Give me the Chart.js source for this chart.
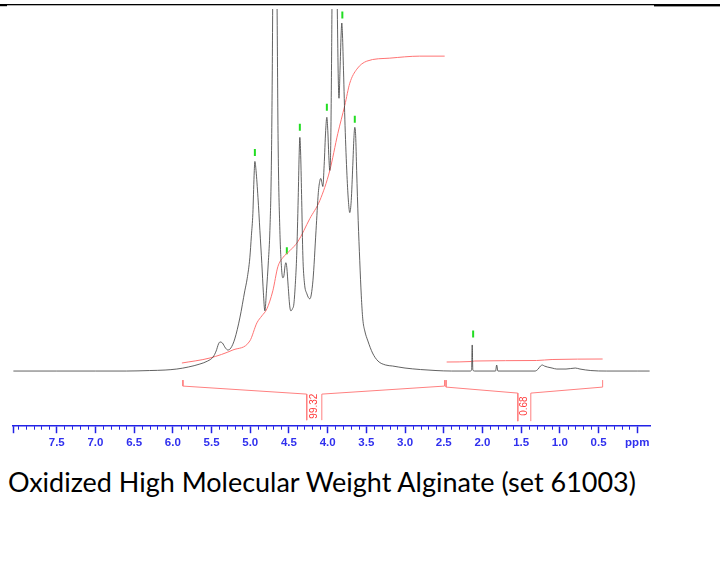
<!doctype html>
<html lang="en">
<head>
<meta charset="utf-8">
<title>Oxidized High Molecular Weight Alginate</title>
<style>
  body { margin:0; background:#fff; width:720px; height:574px; overflow:hidden; position:relative; }
  #wrap { position:absolute; left:0; top:0; width:720px; height:460px; }
  #caption { position:absolute; left:8px; top:466px; font-family:Lato, "Open Sans", sans-serif; font-size:23px; color:#000; white-space:nowrap; line-height:1.2; }
</style>
</head>
<body>
<div id="wrap"><canvas id="nmrChart"></canvas></div>
<div id="caption">Oxidized High Molecular Weight Alginate (set 61003)</div>
<script src="https://cdn.jsdelivr.net/npm/chart.js"></script>
<script>
// 1H spectrum, chemical shift (ppm) and intensity (arbitrary units, baseline 0)
var spectrumPpm = [8.06, 7.5, 7.0, 6.6, 6.3, 6.1, 5.95, 5.8, 5.65, 5.55, 5.48, 5.44, 5.41, 5.39, 5.36, 5.32, 5.29, 5.25, 5.2,
  5.134, 5.07, 5.04, 5.005, 4.985, 4.966, 4.95, 4.94, 4.925, 4.9, 4.875, 4.85, 4.83, 4.811, 4.79, 4.765, 4.746, 4.728,
  4.715, 4.705, 4.685, 4.668, 4.655, 4.64, 4.617, 4.595, 4.579, 4.565, 4.55, 4.54, 4.527, 4.51, 4.49, 4.475, 4.455,
  4.436, 4.415, 4.4, 4.38, 4.368, 4.359, 4.348, 4.335, 4.32, 4.3, 4.268, 4.23, 4.19, 4.15, 4.12, 4.1, 4.088, 4.075,
  4.062, 4.045, 4.025, 4.01, 3.998, 3.985, 3.972, 3.96, 3.948, 3.935, 3.91, 3.89, 3.875, 3.862, 3.853, 3.84, 3.826,
  3.817, 3.808, 3.795, 3.775, 3.75, 3.73, 3.714, 3.695, 3.675, 3.66, 3.649, 3.638, 3.625, 3.605, 3.585, 3.565, 3.546,
  3.52, 3.48, 3.42, 3.35, 3.25, 3.16, 3.0, 2.8, 2.6, 2.4, 2.16, 2.14, 2.132, 2.124, 2.1, 1.83, 1.816, 1.8, 1.32, 1.28,
  1.25, 1.225, 1.2, 1.16, 1.1, 1.04, 0.92, 0.8, 0.74, 0.6, 0.4, 0.0, -0.16];
var spectrumIntensity = [0, 0, 0, 0, 0.5, 1, 2, 4, 7, 10, 14, 20, 27, 29, 28, 23, 21, 23, 32,
  53, 80, 92, 113, 135, 157, 195, 209, 200, 173, 140, 107, 78, 60, 80, 110, 140, 200,
  300, 420, 470, 460, 380, 230, 140, 102, 93, 95, 105, 108, 103, 85, 65, 60, 62,
  67, 90, 115, 173, 215, 233, 215, 170, 115, 88, 77, 72, 90, 140, 178, 190, 192, 188,
  184, 205, 240, 253, 240, 215, 200, 225, 320, 450, 470, 450, 360, 290, 272, 300, 335,
  347, 335, 300, 245, 195, 168, 158, 170, 205, 233, 243, 235, 200, 150, 110, 75, 52,
  40, 30, 18, 10, 6, 5, 3, 1.5, 0.5, 0, 0, 1, 26, 1, 0, 0, 6, 0, 0, 2,
  5, 6, 5, 4, 3, 2, 2, 3, 2, 0.5, 0, 0, 0];

// integral curves
var integral1Ppm = [5.883, 5.521, 5.224, 5.005, 4.914, 4.85, 4.785, 4.708, 4.643, 4.579, 4.488, 4.385, 4.23, 4.101,
  3.972, 3.868, 3.778, 3.714, 3.623, 3.494, 3.197, 2.811, 2.488];
var integral1Value = [8, 13, 21, 30, 48, 55, 62, 80, 104, 113, 120, 129, 152, 170, 200, 237, 265, 287, 301, 309, 312, 314, 314];
var integral2Ppm = [2.462, 2.14, 2.1, 1.3, 1.1, 0.447];
var integral2Value = [9, 9.5, 10, 10.5, 11.5, 12];

// integration brackets (null = break for the label)
var bracket1Ppm = [5.87, 5.87, 4.27, 4.27, 4.17, 4.075, 4.075, 2.49, 2.49];
var bracket1Value = [-9, -15, -23, -49, null, -49, -23, -15, -9];
var bracket2Ppm = [2.47, 2.47, 1.543, 1.543, 1.46, 1.375, 1.375, 0.447, 0.447];
var bracket2Value = [-9, -16, -22, -50, null, -50, -22, -16, -9];
var integralLabels = ['99.32', '0.68'];
var integralLabelPpm = [4.172, 1.459];
var integralLabelValue = -35;

// picked peaks (green marks)
var peakPpm = [4.94, 4.527, 4.359, 4.01, 3.81, 3.649, 2.12];
var peakMarkValue = [218, 120, 243, 263, 355, 251, 37];

var xTickValues = [7.5, 7.0, 6.5, 6.0, 5.5, 5.0, 4.5, 4.0, 3.5, 3.0, 2.5, 2.0, 1.5, 1.0, 0.5, 0.0];

var axisBlue = '#2222e6';

function points(xs, ys) {
  return xs.map(function(x, i) { return { x: x, y: ys[i] }; });
}

var nmrDecor = {
  id: 'nmrDecor',
  afterDraw: function(chart) {
    var ctx = chart.ctx, xs = chart.scales.x, ys = chart.scales.y, area = chart.chartArea;
    ctx.save();
    // minor ticks every 0.1 ppm
    ctx.strokeStyle = axisBlue;
    ctx.lineWidth = 1;
    for (var i = 1; i <= 80; i++) {
      if (i % 5 === 0 && i < 80) continue;
      var px = Math.round(xs.getPixelForValue(i / 10)) + 0.5;
      ctx.beginPath();
      ctx.moveTo(px, area.bottom);
      ctx.lineTo(px, area.bottom + 3.5);
      ctx.stroke();
    }
    ctx.lineWidth = 1.5;
    ctx.beginPath();
    ctx.moveTo(area.left + 0.5, area.bottom);
    ctx.lineTo(area.left + 0.5, area.bottom + 7);
    ctx.stroke();
    // integral values
    ctx.fillStyle = '#ff3b3b';
    ctx.font = '10px "Liberation Sans", Arial, sans-serif';
    ctx.textAlign = 'center';
    ctx.textBaseline = 'middle';
    integralLabels.forEach(function(t, k) {
      ctx.save();
      ctx.translate(xs.getPixelForValue(integralLabelPpm[k]), ys.getPixelForValue(integralLabelValue));
      ctx.rotate(-Math.PI / 2);
      ctx.fillText(t, 0, 0);
      ctx.restore();
    });
    // page rule at the top
    ctx.fillStyle = '#000';
    ctx.fillRect(0, 4, 7, 2.2);
    ctx.fillRect(7, 4, 647, 1.3);
    ctx.fillRect(654, 4, 66, 2.4);
    ctx.restore();
  }
};

new Chart(document.getElementById('nmrChart'), {
  type: 'line',
  data: {
    datasets: [
      {
        label: 'Spectrum',
        data: points(spectrumPpm, spectrumIntensity),
        borderColor: 'rgba(70,70,70,0.85)',
        borderWidth: 1,
        pointRadius: 0,
        cubicInterpolationMode: 'monotone'
      },
      {
        label: 'Integral 1',
        data: points(integral1Ppm, integral1Value),
        borderColor: '#ff7373',
        borderWidth: 1,
        pointRadius: 0,
        cubicInterpolationMode: 'monotone'
      },
      {
        label: 'Integral 2',
        data: points(integral2Ppm, integral2Value),
        borderColor: '#ff7373',
        borderWidth: 1,
        pointRadius: 0,
        cubicInterpolationMode: 'monotone'
      },
      {
        label: 'Bracket 1',
        data: points(bracket1Ppm, bracket1Value),
        borderColor: '#ff8080',
        borderWidth: 1,
        pointRadius: 0,
        tension: 0,
        spanGaps: false
      },
      {
        label: 'Bracket 2',
        data: points(bracket2Ppm, bracket2Value),
        borderColor: '#ff8080',
        borderWidth: 1,
        pointRadius: 0,
        tension: 0,
        spanGaps: false
      },
      {
        label: 'Peaks',
        data: points(peakPpm, peakMarkValue),
        showLine: false,
        pointStyle: 'line',
        rotation: 90,
        pointRadius: 3.5,
        pointBorderWidth: 2,
        pointBorderColor: '#22dd22',
        borderColor: '#22dd22'
      }
    ]
  },
  options: {
    responsive: true,
    maintainAspectRatio: false,
    animation: false,
    layout: { padding: { left: 13, right: 70, top: 9, bottom: 7 } },
    plugins: { legend: { display: false }, tooltip: { enabled: false } },
    scales: {
      x: {
        type: 'linear',
        reverse: true,
        min: -0.165,
        max: 8.065,
        afterBuildTicks: function(scale) {
          scale.ticks = xTickValues.map(function(v) { return { value: v }; });
        },
        ticks: {
          autoSkip: false,
          maxRotation: 0,
          padding: 3,
          color: '#3030ee',
          font: { family: '"Liberation Sans", Arial, sans-serif', size: 11.5, weight: 'bold' },
          callback: function(v) { return v === 0 ? 'ppm' : v.toFixed(1); }
        },
        grid: { drawOnChartArea: false, drawTicks: true, tickLength: 7, tickColor: axisBlue, tickWidth: 1.5 },
        border: { color: axisBlue, width: 1.5 }
      },
      y: {
        display: false,
        min: -55,
        max: 361
      }
    }
  },
  plugins: [nmrDecor]
});

// fit the caption to the width of the original line of text
var cap = document.getElementById('caption');
var w = cap.getBoundingClientRect().width;
cap.style.fontSize = (23 * 628 / w).toFixed(2) + 'px';
</script>
</body>
</html>
